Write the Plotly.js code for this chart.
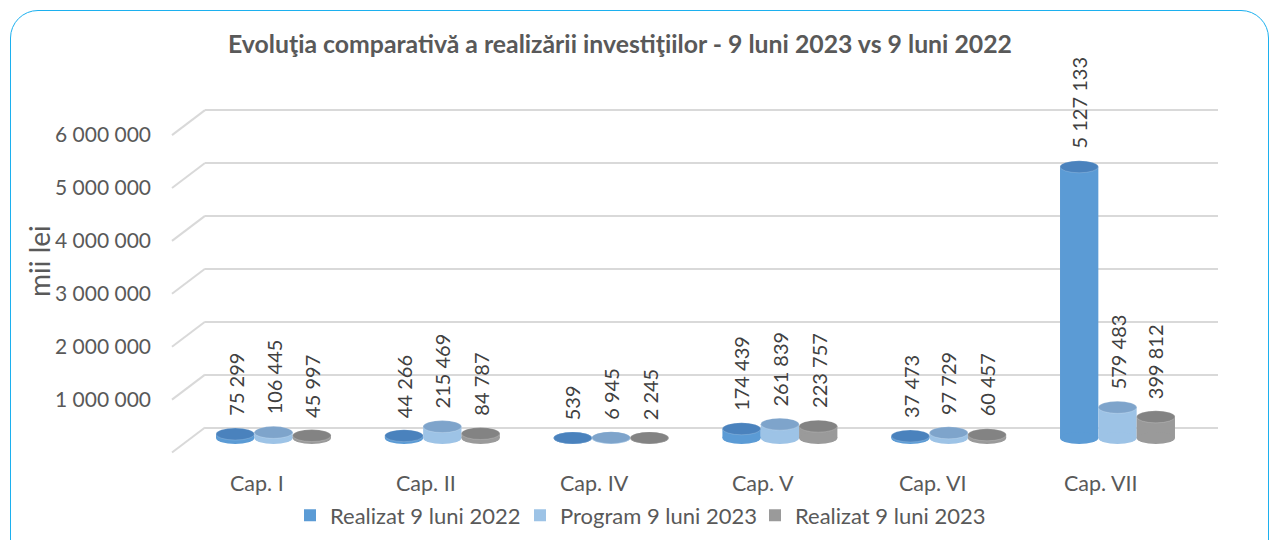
<!DOCTYPE html>
<html><head><meta charset="utf-8">
<script src="https://cdn.plot.ly/plotly-3.0.1.min.js"></script>
<style>
html,body{margin:0;padding:0;background:#fff;}
#wrap{position:relative;width:1271px;height:540px;overflow:hidden;}
#chart{position:absolute;left:0;top:0;width:1271px;height:540px;}
#frame{position:absolute;left:10px;top:10px;width:1259px;height:600px;border:1.5px solid #1cb0ef;border-radius:28px;box-sizing:border-box;pointer-events:none;}
</style></head><body>
<div id="wrap"><div id="chart"></div><div id="frame"></div></div>
<script>
// ---- data ----
const categories = ["Cap. I","Cap. II","Cap. IV","Cap. V","Cap. VI","Cap. VII"];
const realizat2022 = [75299, 44266, 539, 174439, 37473, 5127133];
const program2023 = [106445, 215469, 6945, 261839, 97729, 579483];
const realizat2023 = [45997, 84787, 2245, 223757, 60457, 399812];
const seriesNames = ["Realizat 9 luni 2022", "Program 9 luni 2023", "Realizat 9 luni 2023"];
const yTickVals = [0, 1000000, 2000000, 3000000, 4000000, 5000000, 6000000];
const yTickText = ["", "1 000 000", "2 000 000", "3 000 000", "4 000 000", "5 000 000", "6 000 000"];
const titleText = "Evoluţia comparativă a realizării investiţiilor - 9 luni 2023 vs 9 luni 2022";
const yTitleText = "mii lei";

// ---- styling / layout constants ----
const W = 1271, H = 540;
const FONT = "Lato, 'Open Sans', sans-serif";
const bodyColors = ["#5b9bd5", "#9dc3e6", "#9a9a9a"];
const topColors = ["#4a82bd", "#7ea4cb", "#838383"];
const legendIds = ["legend", "legend2", "legend3"];
const legendX = [290, 520, 755];
const plotTop = 100, plotBot = 460;
const pxPerUnit = 52.9 / 1e6;
const zeroBars = 438, zeroGrid = 427.5, zeroLabels = 452.5;
const bargap = 0.319;
const ellH = 12;
function rangeFor(z){ return [-(plotBot - z) / pxPerUnit, (z - plotTop) / pxPerUnit]; }
const ydom = [1 - plotBot / H, 1 - plotTop / H];
function fmt(v){ return String(v).replace(/\B(?=(\d{3})+(?!\d))/g, " "); }

const seriesVals = [realizat2022, program2023, realizat2023];
const bw = (1 - bargap) / 3;

const traces = [];
traces.push({type:"scatter", x:[0], y:[null], xaxis:"x", yaxis:"y", showlegend:false, hoverinfo:"skip"});
traces.push({type:"scatter", x:[0], y:[null], xaxis:"x", yaxis:"y3", showlegend:false, hoverinfo:"skip"});
seriesVals.forEach((vals, s) => {
  traces.push({
    type:"bar", name:seriesNames[s], x:categories, y:vals,
    xaxis:"x2", yaxis:"y2", legend:legendIds[s],
    marker:{color:bodyColors[s], line:{width:0}},
    hoverinfo:"name+y"
  });
});

const shapes = [];
yTickVals.forEach(v => {
  shapes.push({type:"line", xref:"paper", yref:"y", x0:172/W, x1:205/W,
    y0: v - (zeroLabels - zeroGrid) / pxPerUnit, y1: v,
    line:{color:"#d9d9d9", width:2}, layer:"below"});
});
const bottoms = [], tops = [];
seriesVals.forEach((vals, s) => {
  vals.forEach((v, i) => {
    const xc = i + (s - 1) * bw;
    bottoms.push({type:"circle", xref:"x2", yref:"y2", x0:xc - bw/2, x1:xc + bw/2,
      ysizemode:"pixel", yanchor:0, y0:-ellH/2, y1:ellH/2,
      fillcolor:bodyColors[s], line:{width:0}});
    tops.push({type:"circle", xref:"x2", yref:"y2", x0:xc - bw/2, x1:xc + bw/2,
      ysizemode:"pixel", yanchor:v, y0:-ellH/2, y1:ellH/2,
      fillcolor:topColors[s], line:{width:0.5, color:"rgba(255,255,255,0.35)"}});
  });
});
shapes.push(...bottoms, ...tops);

const annotations = [];
seriesVals.forEach((vals, s) => {
  vals.forEach((v, i) => {
    const xc = i + (s - 1) * bw;
    annotations.push({xref:"x2", yref:"y2", x:xc, y:v, text:fmt(v), textangle:-90,
      showarrow:false, yanchor:"bottom", xanchor:"center", yshift:16,
      font:{family:FONT, size:20, color:"#404040"}});
  });
});
categories.forEach((c, i) => {
  annotations.push({xref:"x2", yref:"paper", x:i, y:1 - 483/H, text:c, showarrow:false,
    xanchor:"center", yanchor:"middle", xshift:-16.5,
    font:{family:FONT, size:21.5, color:"#595959"}});
});
annotations.push({xref:"paper", yref:"paper", x:38.5/W, y:1 - 261.5/H, text:yTitleText, textangle:-90,
  showarrow:false, xanchor:"center", yanchor:"middle",
  font:{family:FONT, size:28, color:"#595959"}});

const layout = {
  width:W, height:H,
  margin:{l:0, r:0, t:0, b:0, pad:0},
  paper_bgcolor:"rgba(0,0,0,0)", plot_bgcolor:"rgba(0,0,0,0)",
  font:{family:FONT, color:"#595959"},
  title:{text:titleText, x:620/W, y:1 - 44/H, xanchor:"center", yanchor:"middle", xref:"paper", yref:"paper",
    font:{family:FONT, size:24.8, color:"#595959", weight:700}},
  showlegend:true,
  barmode:"group", bargap:bargap, bargroupgap:0,
  xaxis:{domain:[205/W, 1218/W], range:[0,1], showgrid:false, zeroline:false, showline:false, showticklabels:false, ticks:"", fixedrange:true},
  yaxis:{domain:ydom, anchor:"x", range:rangeFor(zeroGrid), tickvals:yTickVals, showticklabels:false, ticks:"",
    showgrid:true, gridcolor:"#d9d9d9", gridwidth:2, zeroline:true, zerolinecolor:"#d9d9d9", zerolinewidth:2, showline:false, fixedrange:true},
  xaxis2:{domain:[189.1/W, 1201.9/W], anchor:"y2", type:"category", range:[-0.5, 5.5], showgrid:false, zeroline:false,
    showline:false, showticklabels:false, ticks:"", fixedrange:true},
  yaxis2:{domain:ydom, anchor:"x2", range:rangeFor(zeroBars), showgrid:false, zeroline:false, showline:false,
    showticklabels:false, ticks:"", fixedrange:true},
  yaxis3:{domain:ydom, overlaying:"y", anchor:"free", position:151/W, side:"left", range:rangeFor(zeroLabels),
    tickvals:yTickVals, ticktext:yTickText, showgrid:false, zeroline:false, showline:false, ticks:"",
    tickfont:{family:FONT, size:21, color:"#595959"}, fixedrange:true},
  shapes:shapes,
  annotations:annotations
};
legendIds.forEach((id, s) => {
  layout[id] = {orientation:"h", x:legendX[s]/W, xanchor:"left", y:1 - 515.5/H, yanchor:"middle",
    font:{family:FONT, size:22, color:"#595959"}, itemwidth:30, bgcolor:"rgba(0,0,0,0)", borderwidth:0};
});
Plotly.newPlot("chart", traces, layout, {displayModeBar:false, staticPlot:true});
</script>
</body></html>
